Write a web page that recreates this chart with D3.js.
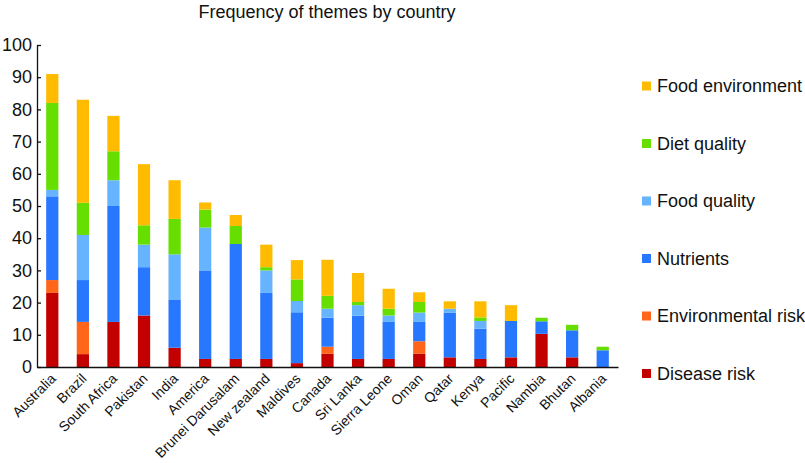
<!DOCTYPE html>
<html>
<head>
<meta charset="utf-8">
<script src="https://d3js.org/d3.v7.min.js"></script>
<style>
  body { margin: 0; background: #fff; }
  text { font-family: "Liberation Sans", Arial, sans-serif; fill: #111; }
</style>
</head>
<body>
<div id="chart"></div>
<script>
// countries in display order
var countries = ["Australia", "Brazil", "South Africa", "Pakistan", "India", "America",
  "Brunei Darusalam", "New zealand", "Maldives", "Canada", "Sri Lanka", "Sierra Leone",
  "Oman", "Qatar", "Kenya", "Pacific", "Nambia", "Bhutan", "Albania"];

// series, stacked bottom to top
var diseaseRisk      = [23, 4, 14, 16, 6, 2.5, 2.5, 2.5, 1.2, 4.1, 2.5, 2.5, 4.1, 3, 2.5, 3, 10.3, 3, 0];
var environmentalRisk= [4, 10, 0, 0, 0, 0, 0, 0, 0, 2.2, 0, 0, 3.9, 0, 0, 0, 0, 0, 0];
var nutrients        = [26, 13, 36, 15, 15, 27.5, 35.7, 20.5, 15.8, 9, 13.4, 11.5, 6, 13.9, 9.4, 11.3, 3.9, 8.4, 5.2];
var foodQuality      = [2, 14, 8, 7, 14, 13.3, 0, 7, 3.5, 2.8, 3.3, 2, 2.9, 1.2, 2.4, 0, 0, 0, 0];
var dietQuality      = [27, 10, 9, 6, 11, 5.6, 5.6, 1, 6.7, 4, 1, 2.1, 3.3, 0, 1.1, 0, 1.1, 1.7, 1.1];
var foodEnvironment  = [9, 32, 11, 19, 12, 2.2, 3.4, 7, 6, 11.2, 9, 6.2, 3, 2.3, 5, 4.9, 0, 0, 0];

var seriesNames = ["Disease risk", "Environmental risk", "Nutrients", "Food quality", "Diet quality", "Food environment"];
var seriesValues = [diseaseRisk, environmentalRisk, nutrients, foodQuality, dietQuality, foodEnvironment];
var colors = ["#c30000", "#ff6619", "#2878ff", "#66b3ff", "#66de00", "#ffbb00"];

var yTicks = [0, 10, 20, 30, 40, 50, 60, 70, 80, 90, 100];

var width = 805, height = 463;

var svg = d3.select("#chart").append("svg")
  .attr("width", width)
  .attr("height", height);

// build rows for d3.stack
var data = countries.map(function(c, i) {
  var row = {country: c};
  seriesNames.forEach(function(s, j) { row[s] = seriesValues[j][i]; });
  return row;
});

var x = d3.scaleBand()
  .domain(countries)
  .range([37, 618])
  .paddingInner(0.6)
  .paddingOuter(0.3);

var y = d3.scaleLinear()
  .domain([0, 100])
  .range([367, 45]);

var z = d3.scaleOrdinal().domain(seriesNames).range(colors);

// title
svg.append("text")
  .attr("x", 327)
  .attr("y", 18)
  .attr("text-anchor", "middle")
  .attr("font-size", 18)
  .text("Frequency of themes by country");

// bars
svg.append("g")
  .selectAll("g")
  .data(d3.stack().keys(seriesNames)(data))
  .enter().append("g")
    .attr("fill", function(d) { return z(d.key); })
  .selectAll("rect")
  .data(function(d) { return d; })
  .enter().append("rect")
    .attr("x", function(d) { return x(d.data.country); })
    .attr("y", function(d) { return y(d[1]); })
    .attr("height", function(d) { return y(d[0]) - y(d[1]); })
    .attr("width", x.bandwidth());

// y axis, ticks point inward
var yAxis = svg.append("g")
  .attr("transform", "translate(37,0)")
  .call(d3.axisLeft(y).tickValues(yTicks).tickSizeInner(-4).tickSizeOuter(0).tickPadding(5));
yAxis.selectAll("text").attr("font-size", 18).attr("font-family", "Liberation Sans, Arial, sans-serif").attr("fill", "#111");
yAxis.selectAll("line, path").attr("stroke", "#111").attr("stroke-width", 1.3);

// x axis, rotated labels
var xAxis = svg.append("g")
  .attr("transform", "translate(0,367)")
  .call(d3.axisBottom(x).tickSize(0).tickSizeOuter(0));
xAxis.select(".domain").attr("stroke", "#111").attr("stroke-width", 1.5);
xAxis.selectAll(".tick text")
  .attr("font-size", 14)
  .attr("font-family", "Liberation Sans, Arial, sans-serif")
  .attr("fill", "#111")
  .attr("text-anchor", "end")
  .attr("x", 0)
  .attr("y", 0)
  .attr("dy", "0.35em")
  .attr("transform", "translate(1,9) rotate(-45)");

// legend, top entry is the top of the stack
var legend = svg.append("g")
  .selectAll("g")
  .data(seriesNames.slice().reverse())
  .enter().append("g")
    .attr("transform", function(d, i) { return "translate(642," + (86 + i * 57.5) + ")"; });

legend.append("rect")
  .attr("x", 0)
  .attr("y", -4.5)
  .attr("width", 9)
  .attr("height", 9)
  .attr("fill", z);

legend.append("text")
  .attr("x", 15)
  .attr("y", 0)
  .attr("dy", "0.35em")
  .attr("font-size", 18)
  .text(function(d) { return d; });
</script>
</body>
</html>
